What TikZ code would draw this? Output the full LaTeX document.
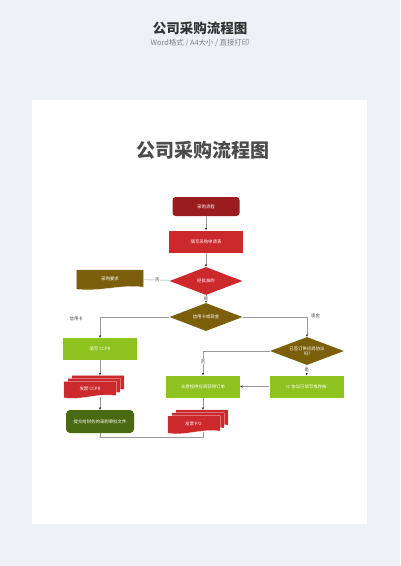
\documentclass[tikz,border=0pt]{standalone}
\usepackage{fontspec}
\setmainfont{Noto Sans CJK SC}
\usetikzlibrary{shapes.geometric,arrows.meta,calc,backgrounds}

\definecolor{pagebg}{HTML}{EDF1F5}
\definecolor{darkred}{HTML}{9B1C1F}
\definecolor{flowred}{HTML}{CC292D}
\definecolor{olive}{HTML}{7C5F0B}
\definecolor{flowgreen}{HTML}{8DC21F}
\definecolor{deepgreen}{HTML}{4A6A12}

% wavy document filled behind node #1, moved by (#3,#4)
\newcommand\docfill[4]{%
  \fill[#2, draw=white, line width=0.3pt] let \p1=(#1.south west), \p2=(#1.north east), \n1={\x2-\x1} in
    (\x1+#3,\y2+#4) -- (\x2+#3,\y2+#4) -- (\x2+#3,\y1+#4+1pt)
    .. controls (\x2+#3-0.35*\n1,\y1+#4+4pt) and (\x1+#3+0.35*\n1,\y1+#4-4pt) .. (\x1+#3,\y1+#4-1pt) -- cycle;}

\begin{document}
\begin{tikzpicture}[x=1pt,y=-1pt,
    every node/.style={font=\fontsize{4.4}{5.4}\selectfont, text=white, inner sep=0pt, align=center},
    box/.style={rectangle, minimum width=74pt, minimum height=22pt},
    choice/.style={diamond, aspect=2.6, minimum width=73pt, minimum height=28pt},
    doc/.style={rectangle, minimum width=52pt, minimum height=15pt},
    lbl/.style={text=black!75, fill=white, inner sep=0.8pt},
    line/.style={draw=black!40, line width=0.4pt},
    arr/.style={line, -{Stealth[length=2.6pt,width=2.2pt,color=black!85]}}]

    \begin{scope}[on background layer]
        \fill[pagebg] (0,0) rectangle (400,566);
        \fill[white] (32,100) rectangle (367,524);
    \end{scope}
    \useasboundingbox (0,0) rectangle (400,566);

    \node[text=black!80, font=\fontsize{13.5}{15}\bfseries] (t1) at (200,28) {公司采购流程图};
    \node[text=black!50, font=\fontsize{7.4}{8.5}\selectfont] (t2) at (200,43) {Word格式 / A4大小 / 直接打印};
    \node[text=black!70, font=\fontsize{19}{21}\bfseries] (t3) at (203,150) {公司采购流程图};

    \node[rectangle, fill=darkred, rounded corners=3pt, minimum width=67pt, minimum height=19pt] (1) at (206,206.5) {采购流程};
    \node[box, fill=flowred] (2) at (206,241.5) {填写采购申请表};
    \node[choice, fill=flowred] (3) at (206,281) {经批准的};
    \node[doc, minimum width=67pt, minimum height=18pt] (4) at (110,279) {采购要求};
    \node[choice, fill=olive] (5) at (206,317) {信用卡或现金};
    \node[box, fill=flowgreen] (6) at (100,349) {填写 CCPR};
    \node[doc] (7) at (90,389) {发票 CCPR};
    \node[rectangle, fill=deepgreen, rounded corners=4pt, minimum width=68pt, minimum height=23pt] (8) at (100,421.5) {提交给财务的采购审批文件};
    \node[choice, fill=olive, minimum width=74pt] (9) at (307,351) {已签订供应商协议\\吗?};
    \node[box, fill=flowgreen] (10) at (306.5,386.5) {IC 协议已填写或存档};
    \node[box, fill=flowgreen] (11) at (203,386.5) {从授权供应商获得订单};
    \node[doc, minimum height=16pt] (12) at (194,424) {发票 P.O.};

    \begin{scope}[on background layer]
        \docfill{4}{olive}{0pt}{0pt}
        \docfill{7}{flowred}{8pt}{6pt}
        \docfill{7}{flowred}{4pt}{3pt}
        \docfill{7}{flowred}{0pt}{0pt}
        \docfill{12}{flowred}{8pt}{6pt}
        \docfill{12}{flowred}{4pt}{3pt}
        \docfill{12}{flowred}{0pt}{0pt}
    \end{scope}

    \path [arr] (1) edge (2);
    \path [arr] (2) edge (3);
    \path [line] (3)
            edge node[lbl]
            {否} (4);
    \path [arr] (3)
            edge node[lbl, pos=0.45]
            {是} (5);
    \draw [arr] (5.west) -| node[pos=0.5, text=black!75, anchor=east, xshift=-17pt, yshift=-2pt]
            {信用卡} (6.north);
    \draw [arr] (5.east) -| node[pos=0.5, text=black!75, anchor=west, xshift=4pt, yshift=1pt]
            {现金} (9.north);
    \draw [arr, shorten >=6pt] (6.south) -- (6.south |- 7.north);
    \draw [arr] (8.north |- 7.south) -- (8.north);
    \draw [arr] (9.west) -| node[lbl, pos=0.72]
            {否} (11.north);
    \path [arr] (9)
            edge node[lbl]
            {是} (10);
    \path [arr] (10) edge (11);
    \draw [arr, shorten >=6pt] (11.south) -- (11.south |- 12.north);
    \draw [line] (8.south) -- ++(0,3.5) -| (11.south |- 12.south);
\end{tikzpicture}
\end{document}
